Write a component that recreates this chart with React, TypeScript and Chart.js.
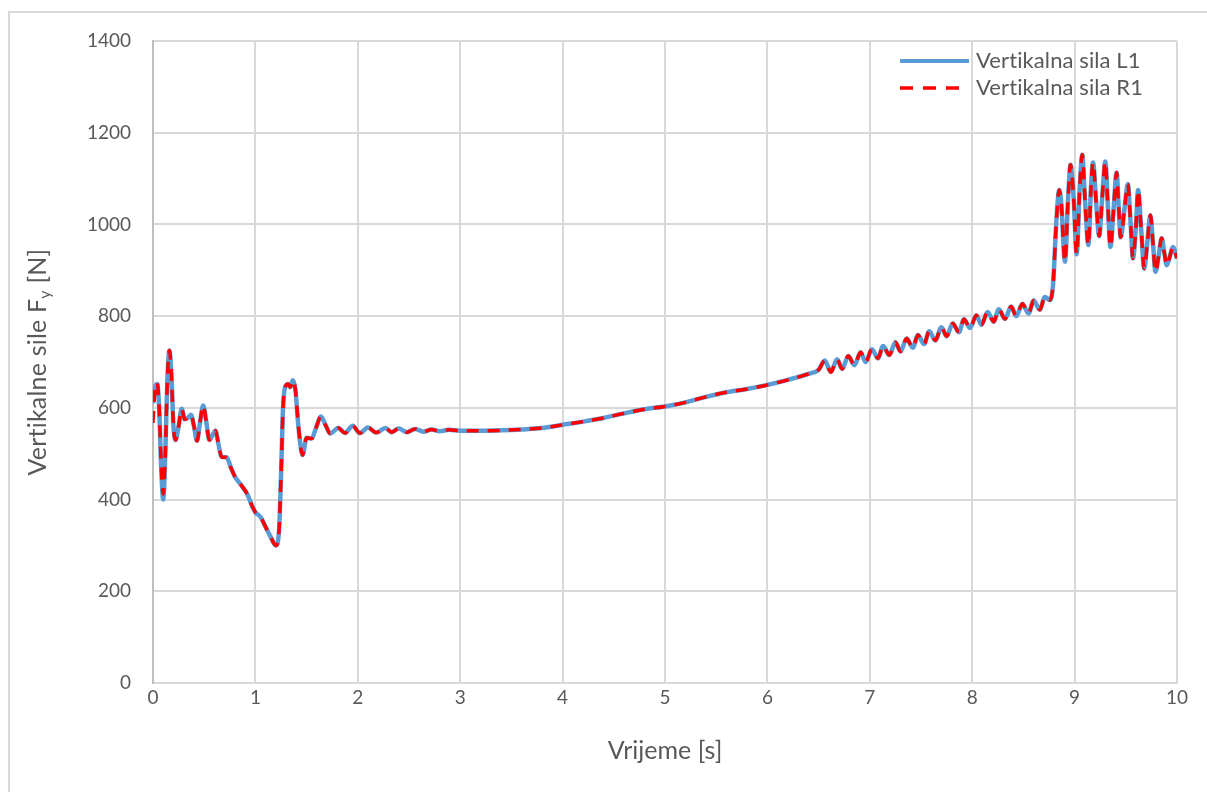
import React, { useEffect, useRef } from "react";
import { Chart, registerables } from "chart.js";

Chart.register(...registerables);

// Time axis [s]
const times: number[] = [
  0.0, 0.02, 0.04, 0.06, 0.08, 0.1, 0.12, 0.14, 0.16, 0.18, 0.2, 0.22, 0.25, 0.28, 0.31, 0.34, 0.37, 0.4,
  0.43, 0.46, 0.49, 0.52, 0.55, 0.58, 0.61, 0.64, 0.67, 0.72, 0.76, 0.8, 0.86, 0.92, 0.97, 1.0, 1.05, 1.1,
  1.15, 1.2, 1.23, 1.25, 1.27, 1.29, 1.32, 1.34, 1.365, 1.39, 1.42, 1.46, 1.5, 1.55, 1.59, 1.64, 1.69, 1.73,
  1.81, 1.875, 1.95, 2.02, 2.1, 2.18, 2.27, 2.33, 2.4, 2.48, 2.56, 2.64, 2.72, 2.8, 2.89, 3.0, 3.2, 3.4,
  3.6, 3.8, 4.0, 4.2, 4.4, 4.6, 4.8, 5.0, 5.2, 5.4, 5.6, 5.8, 6.0, 6.2, 6.4, 6.5, 6.56, 6.62, 6.68, 6.73,
  6.79, 6.85, 6.91, 6.96, 7.02, 7.08, 7.13, 7.19, 7.25, 7.3, 7.36, 7.42, 7.47, 7.53, 7.58, 7.64, 7.7, 7.75,
  7.81, 7.87, 7.92, 7.98, 8.04, 8.09, 8.15, 8.21, 8.26, 8.32, 8.38, 8.43, 8.49, 8.55, 8.6, 8.66, 8.71, 8.76,
  8.79, 8.82, 8.85, 8.87, 8.906, 8.935, 8.96, 8.99, 9.02, 9.05, 9.075, 9.1, 9.135, 9.16, 9.18, 9.21, 9.24,
  9.27, 9.3, 9.325, 9.35, 9.38, 9.41, 9.43, 9.45, 9.49, 9.52, 9.545, 9.57, 9.6, 9.62, 9.65, 9.68, 9.71,
  9.74, 9.765, 9.79, 9.82, 9.85, 9.875, 9.9, 9.93, 9.96, 10.0,
];

// Vertikalna sila L1 [N]
const silaL1: number[] = [
  610, 645, 652, 600, 470, 400, 500, 660, 725, 670, 560, 530, 560, 598, 575, 578, 585, 560,
  528, 570, 605, 570, 530, 540, 550, 520, 493, 492, 470, 450, 432, 412, 385, 372, 362, 340,
  318, 300, 330, 450, 600, 645, 652, 645, 660, 640, 560, 497, 535, 533, 555, 581, 560, 544,
  556, 545, 561, 545, 557, 546, 556, 547, 555, 547, 554, 548, 553, 549, 552, 550, 550, 551,
  553, 556, 563, 570, 578, 588, 597, 603, 612, 624, 634, 641, 650, 661, 674, 683, 703, 678, 706, 685,
  713, 693, 721, 700, 728, 708, 735, 715, 743, 723, 751, 731, 759, 739, 767, 747, 776, 756,
  784, 765, 793, 774, 802, 781, 809, 788, 815, 794, 821, 800, 827, 806, 834, 814, 842, 835,
  870, 1000, 1075, 1045, 919, 1050, 1130, 1060, 935, 1080, 1152, 1060, 955, 1080, 1135, 1050, 975,
  1060, 1137, 1040, 951, 1030, 1113, 1040, 972, 1040, 1088, 1010, 926, 1000, 1075, 990, 904, 960,
  1020, 960, 897, 930, 970, 940, 911, 930, 951, 926,
];

// Vertikalna sila R1 [N]
const silaR1: number[] = [
  567, 640, 655, 600, 475, 412, 500, 660, 725, 670, 560, 530, 560, 598, 575, 578, 585, 560,
  528, 570, 605, 570, 530, 540, 550, 520, 493, 492, 470, 450, 432, 412, 385, 372, 362, 340,
  318, 300, 330, 450, 600, 645, 652, 645, 660, 640, 560, 497, 535, 533, 555, 581, 560, 544,
  556, 545, 561, 545, 557, 546, 556, 547, 555, 547, 554, 548, 553, 549, 552, 550, 550, 551,
  553, 556, 563, 570, 578, 588, 597, 603, 612, 624, 634, 641, 650, 661, 674, 683, 703, 678, 706, 685,
  713, 693, 721, 700, 728, 708, 735, 715, 743, 723, 751, 731, 759, 739, 767, 747, 776, 756,
  784, 765, 793, 774, 802, 781, 809, 788, 815, 794, 821, 800, 827, 806, 834, 814, 842, 835,
  870, 1000, 1075, 1045, 919, 1050, 1130, 1060, 935, 1080, 1152, 1060, 955, 1080, 1135, 1050, 975,
  1060, 1137, 1040, 951, 1030, 1113, 1040, 972, 1040, 1088, 1010, 926, 1000, 1075, 990, 904, 960,
  1020, 960, 897, 930, 970, 940, 911, 930, 951, 926,
];

const seriesNames = ["Vertikalna sila L1", "Vertikalna sila R1"];
const xTitle = "Vrijeme [s]";
const yTitleMain = "Vertikalne sile F";
const yTitleSub = "y";
const yTitleTail = " [N]";

const FONT = "Lato, 'Open Sans', sans-serif";
const TEXT = "#595959";
const BLUE = "#5b9bd5";
const RED = "#ff0000";

const overlayPlugin = {
  id: "overlay",
  afterDraw(chart: any) {
    const ctx = chart.ctx as any;
    const area = chart.chartArea;
    ctx.save();
    ctx.fillStyle = TEXT;

    // X axis title
    ctx.font = `25px ${FONT}`;
    ctx.textAlign = "center";
    ctx.textBaseline = "middle";
    ctx.fillText(xTitle, (area.left + area.right) / 2, 751);

    // Y axis title with subscript
    ctx.save();
    ctx.translate(37, (area.top + area.bottom) / 2);
    ctx.rotate(-Math.PI / 2);
    ctx.textAlign = "left";
    ctx.textBaseline = "alphabetic";
    ctx.letterSpacing = "0.2px";
    const mainFont = `25px ${FONT}`;
    const subFont = `16px ${FONT}`;
    ctx.font = mainFont;
    const w1 = ctx.measureText(yTitleMain).width;
    const w3 = ctx.measureText(yTitleTail).width;
    ctx.font = subFont;
    const w2 = ctx.measureText(yTitleSub).width;
    let x = -(w1 + w2 + w3) / 2;
    ctx.font = mainFont;
    ctx.fillText(yTitleMain, x, 9);
    x += w1;
    ctx.font = subFont;
    ctx.fillText(yTitleSub, x, 13);
    x += w2;
    ctx.font = mainFont;
    ctx.fillText(yTitleTail, x, 9);
    ctx.restore();

    // Legend
    const items = [
      { label: seriesNames[0], color: BLUE, width: 4, dash: [] as number[], y: 61 },
      { label: seriesNames[1], color: RED, width: 3.5, dash: [13, 10], y: 88 },
    ];
    for (const it of items) {
      ctx.beginPath();
      ctx.strokeStyle = it.color;
      ctx.lineWidth = it.width;
      ctx.setLineDash(it.dash);
      ctx.lineCap = "butt";
      ctx.moveTo(900, it.y);
      ctx.lineTo(969, it.y);
      ctx.stroke();
      ctx.setLineDash([]);
      ctx.font = `22px ${FONT}`;
      ctx.letterSpacing = "0.1px";
      ctx.textAlign = "left";
      ctx.textBaseline = "middle";
      ctx.fillStyle = TEXT;
      ctx.fillText(it.label, 976, it.y);
    }
    ctx.restore();
  },
};

export default function App() {
  const canvasRef = useRef<HTMLCanvasElement | null>(null);

  useEffect(() => {
    const canvas = canvasRef.current;
    if (!canvas) return;
    const chart = new Chart(canvas, {
      type: "line",
      data: {
        datasets: [
          {
            label: seriesNames[1],
            data: times.map((t, i) => ({ x: t, y: silaR1[i] })),
            borderColor: RED,
            borderWidth: 3.5,
            borderDash: [12, 9],
            pointRadius: 0,
            cubicInterpolationMode: "monotone",
            fill: false,
            order: 0,
          },
          {
            label: seriesNames[0],
            data: times.map((t, i) => ({ x: t, y: silaL1[i] })),
            borderColor: BLUE,
            borderWidth: 4.5,
            pointRadius: 0,
            cubicInterpolationMode: "monotone",
            borderJoinStyle: "round",
            fill: false,
            order: 1,
          },
        ],
      },
      options: {
        animation: false,
        responsive: false,
        devicePixelRatio: 1,
        layout: {
          autoPadding: false,
          padding: { left: 0, top: 41, right: 30, bottom: 0 },
        },
        plugins: {
          legend: { display: false },
          tooltip: { enabled: false },
        },
        scales: {
          x: {
            type: "linear",
            min: 0,
            max: 10,
            afterFit(scale: any) {
              scale.height = 109;
            },
            ticks: {
              stepSize: 1,
              padding: 3,
              color: TEXT,
              font: { family: FONT, size: 19 },
              maxRotation: 0,
              callback: (v: any) => String(v),
            },
            grid: { color: "#d9d9d9", lineWidth: 2, drawTicks: false },
            border: { color: "#d9d9d9", width: 2 },
          },
          y: {
            min: 0,
            max: 1400,
            afterFit(scale: any) {
              scale.width = 153;
            },
            ticks: {
              stepSize: 200,
              padding: 22,
              color: TEXT,
              font: { family: FONT, size: 19 },
              callback: (v: any) => String(v),
            },
            grid: { color: "#d9d9d9", lineWidth: 2, drawTicks: false },
            border: { color: "#bfbfbf", width: 2 },
          },
        },
      },
      plugins: [overlayPlugin],
    });
    return () => chart.destroy();
  }, []);

  return (
    <div
      style={{
        position: "fixed",
        left: 0,
        top: 0,
        width: 1207,
        height: 792,
        overflow: "hidden",
        background: "#ffffff",
      }}
    >
      <div
        style={{
          position: "absolute",
          left: 8,
          top: 11,
          width: 1260,
          height: 850,
          border: "2px solid #d9d9d9",
          boxSizing: "border-box",
        }}
      />
      <canvas
        ref={canvasRef}
        width={1207}
        height={792}
        style={{ position: "absolute", left: 0, top: 0, width: 1207, height: 792 }}
      />
    </div>
  );
}
